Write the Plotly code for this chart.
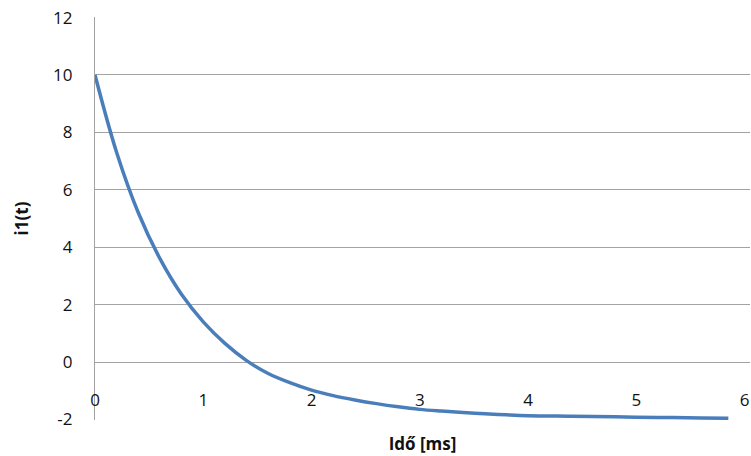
import plotly.graph_objects as go

# Time values [ms] and current i1(t)
t_ms = [0.0, 0.2, 0.4, 0.6, 0.8, 1.0, 1.2, 1.4, 1.6, 1.8, 2.0, 2.2, 2.4, 2.6, 2.8,
        3.0, 3.2, 3.4, 3.6, 3.8, 4.0, 4.4, 4.8, 5.2, 5.6, 5.85]
i1 = [10.0, 7.3, 5.2, 3.6, 2.35, 1.4, 0.65, 0.05, -0.4, -0.72, -0.98, -1.17, -1.32,
      -1.45, -1.56, -1.65, -1.71, -1.76, -1.80, -1.84, -1.87, -1.89, -1.91, -1.93,
      -1.95, -1.96]

x_ticks = [0, 1, 2, 3, 4, 5, 6]
y_ticks = [-2, 0, 2, 4, 6, 8, 10, 12]

font_family = "Open Sans, Liberation Sans, sans-serif"
grid_color = "#a3a3a3"

fig = go.Figure()
fig.add_trace(go.Scatter(
    x=t_ms, y=i1, mode="lines",
    line=dict(color="#4a7ebb", width=3.5, shape="spline"),
    showlegend=False,
))

fig.update_layout(
    width=751, height=456,
    margin=dict(l=95, r=1, t=17, b=36),
    paper_bgcolor="white", plot_bgcolor="white",
    font=dict(family=font_family, size=17, color="#111111"),
    xaxis=dict(
        range=[0, 6.05], tickvals=x_ticks, ticktext=[str(v) for v in x_ticks],
        showgrid=False, zeroline=False, showline=False, ticks="",
        anchor="free", position=0.08,
        title=dict(text="<b>Idő [ms]</b>", font=dict(size=17), standoff=28),
    ),
    yaxis=dict(
        range=[-2.02, 12.02], tickvals=y_ticks, ticktext=[str(v) for v in y_ticks],
        showgrid=True, gridcolor=grid_color, gridwidth=1.2,
        zeroline=False, showline=True, linecolor=grid_color, linewidth=1.2,
        ticks="", ticklabelstandoff=18,
        title=dict(text="<b>i1(t)</b>", font=dict(size=17), standoff=20),
    ),
)

fig.write_html("out.html")
